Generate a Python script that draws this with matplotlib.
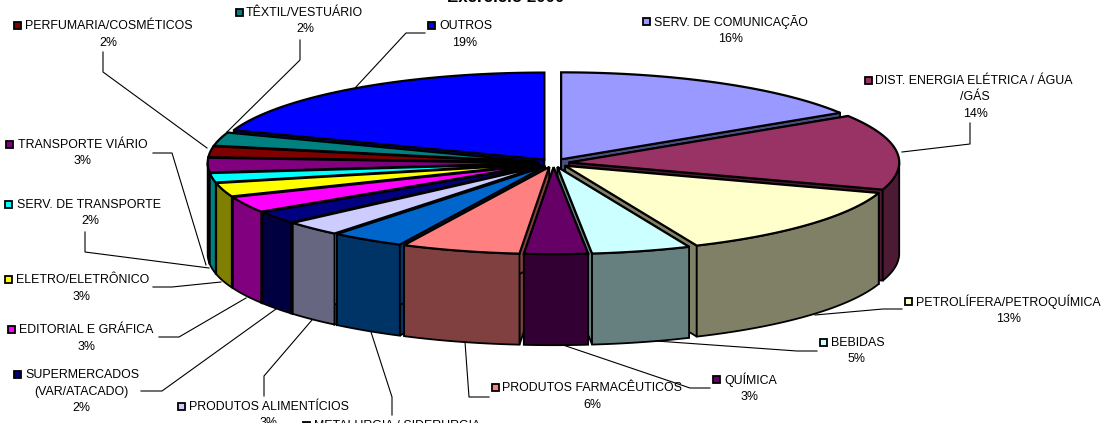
import numpy as np
import matplotlib
matplotlib.use("Agg")
import matplotlib.pyplot as plt
from matplotlib.patches import Polygon, Rectangle

plt.rcParams['font.family'] = ['Liberation Sans', 'DejaVu Sans']

# clockwise from 12 o'clock
sectors = ["SERV. DE COMUNICAÇÃO", "DIST. ENERGIA ELÉTRICA / ÁGUA\n/GÁS", "PETROLÍFERA/PETROQUÍMICA",
           "BEBIDAS", "QUÍMICA", "PRODUTOS FARMACÊUTICOS", "METALURGIA / SIDERURGIA",
           "PRODUTOS ALIMENTÍCIOS", "SUPERMERCADOS\n(VAR/ATACADO)", "EDITORIAL E GRÁFICA",
           "ELETRO/ELETRÔNICO", "SERV. DE TRANSPORTE", "TRANSPORTE VIÁRIO",
           "PERFUMARIA/COSMÉTICOS", "TÊXTIL/VESTUÁRIO", "OUTROS"]
# estimated from the slice corners, the labels show them rounded
values = [16.0, 14.0, 13.4, 4.85, 3.1, 5.8, 3.6, 2.8, 2.3, 3.0, 2.55, 1.75, 2.7, 2.0, 2.49, 19.49]
top_colors = ["#9999FF", "#993366", "#FFFFCC", "#CCFFFF", "#660066", "#FF8080", "#0066CC", "#CCCCFF",
              "#000080", "#FF00FF", "#FFFF00", "#00FFFF", "#800080", "#800000", "#008080", "#0000FF"]
side_colors = ["#4D4D80", "#4D1A33", "#808066", "#668080", "#330033", "#804040", "#003366", "#666680",
               "#000040", "#800080", "#808000", "#008080", "#400040", "#400000", "#004040", "#000080"]

# pie geometry in pixels
CX, CY = 553.5, 163
RX, RY = 330, 87
DEPTH = 91
EXPLODE = 0.048

# key x, text left, first line y, centre x of the lines below
label_pos = [(646, 654, 21, 731), (868, 875, 80, 975), (908, 916, 301, 1009), (823, 831, 342, 857),
             (716, 724, 379, 750), (495, 502, 387, 592), (306, 314, 425, 397), (181, 189, 406, 269),
             (17, 25, 374, 81), (11, 19, 329, 87), (8, 16, 279, 82), (8, 17, 204, 90),
             (9, 18, 144, 83), (17, 25, 25, 108), (239, 246, 12, 305), (431, 439, 25, 465)]

leaders = [None,
           [(970, 123), (970, 144), (902, 152)],
           [(902, 309), (883, 309), (815, 315)],
           [(817, 351), (797, 351), (656, 341)],
           [(710, 388), (690, 388), (563, 345)],
           [(489, 397), (469, 397), (465, 342)],
           [(392, 415), (392, 397), (371, 332)],
           [(264, 396), (264, 376), (312, 320)],
           [(141, 391), (162, 391), (276, 309)],
           [(159, 337), (179, 337), (246, 298)],
           [(153, 287), (172, 287), (221, 282)],
           [(85, 232), (85, 252), (209, 268)],
           [(153, 153), (172, 153), (206, 265)],
           [(103, 52), (103, 72), (207, 148)],
           [(300, 40), (300, 60), (227, 132)],
           [(425, 33), (406, 33), (355, 88)]]


def rim(apex, angles):
    return np.column_stack([apex[0] + RX * np.sin(angles), apex[1] - RY * np.cos(angles)])


def draw_slice(ax, start, end, top, side):
    mid = (start + end) / 2
    apex = (CX + EXPLODE * RX * np.sin(mid), CY - EXPLODE * RY * np.cos(mid))
    angles = np.linspace(start, end, 80)
    arc = rim(apex, angles)
    drop = np.array([0, DEPTH])

    # the two cut faces
    for a in (arc[0], arc[-1]):
        face = [apex, a, a + drop, np.array(apex) + drop]
        ax.add_patch(Polygon(face, fc=side, ec="black", lw=1.3))

    # outer wall, only the part turned to the viewer
    front = angles[np.cos(angles) <= 0]
    if len(front) > 1:
        f = rim(apex, front)
        ax.add_patch(Polygon(np.vstack([f, (f + drop)[::-1]]), fc=side, ec="black", lw=1.3))

    ax.add_patch(Polygon(np.vstack([[apex], arc]), fc=top, ec="black", lw=1.6))


def main():
    fig = plt.figure(figsize=(11.02, 4.30), dpi=100)
    ax = fig.add_axes([0, 0, 1, 1])
    ax.set_xlim(0, 1102)
    ax.set_ylim(430, 0)
    ax.axis("off")

    edges = np.cumsum([0] + values) / sum(values) * 2 * np.pi
    mids = (edges[:-1] + edges[1:]) / 2
    # back slices first
    for i in np.argsort(-np.cos(mids)):
        draw_slice(ax, edges[i], edges[i + 1], top_colors[i], side_colors[i])

    for i, name in enumerate(sectors):
        key_x, text_x, y, centre = label_pos[i]
        lines = name.split("\n")
        ax.add_patch(Rectangle((key_x - 3.5, y - 3.5), 7, 7, fc=top_colors[i], ec="black", lw=1.3))
        ax.text(text_x, y + 1, lines[0], fontsize=8.9, va="center", ha="left")
        for n, extra in enumerate(lines[1:] + [f"{round(values[i])}%"]):
            ax.text(centre, y + 1 + 16.5 * (n + 1), extra, fontsize=8.9, va="center", ha="center")
        if leaders[i]:
            xs, ys = zip(*leaders[i])
            ax.plot(xs, ys, color="black", lw=0.8)

    ax.text(506, 2, "Exercício 2000", fontsize=12.2, fontweight="bold", va="baseline", ha="center")
    # the chart area stops short of the bottom edge
    ax.add_patch(Rectangle((0, 423), 1102, 7, fc="white", ec="none", zorder=10))

    fig.savefig("out.png", dpi=100)


if __name__ == "__main__":
    main()
